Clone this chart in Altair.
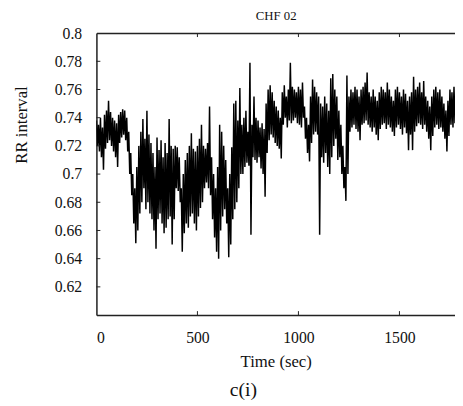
import altair as alt
import pandas as pd

# RR interval envelope, one pair per 10-second bin (0 .. 1770 s)
rr_high = [
    .738, .735, .740, .733, .742, .745, .752, .744, .740, .738,
    .736, .742, .744, .746, .745, .740, .730, .715, .700, .690,
    .705, .720, .730, .739, .725, .745, .728, .722, .715, .705,
    .726, .717, .724, .712, .722, .715, .739, .720, .718, .720,
    .719, .712, .690, .700, .710, .715, .720, .729, .718, .716,
    .720, .725, .735, .720, .718, .722, .748, .712, .700, .690,
    .705, .735, .730, .720, .710, .690, .700, .719, .750, .752,
    .738, .761, .735, .740, .745, .730, .779, .735, .755, .740,
    .738, .733, .736, .732, .750, .760, .763, .758, .752, .748,
    .745, .740, .758, .763, .755, .760, .779, .762, .760, .758,
    .762, .760, .765, .748, .740, .735, .755, .767, .762, .758,
    .755, .750, .748, .755, .750, .745, .768, .771, .760, .755,
    .745, .735, .720, .705, .770, .755, .760, .758, .762, .760,
    .755, .760, .762, .765, .772, .758, .755, .760, .755, .752,
    .758, .762, .760, .758, .765, .760, .755, .752, .760, .762,
    .758, .755, .760, .757, .752, .755, .758, .769, .760, .762,
    .765, .758, .766, .755, .752, .748, .755, .760, .762, .758,
    .760, .755, .750, .745, .752, .760, .758, .762,
]
rr_low = [
    .720, .716, .712, .703, .718, .722, .724, .720, .716, .712,
    .705, .722, .726, .728, .724, .716, .700, .685, .665, .651,
    .660, .672, .680, .690, .675, .680, .672, .668, .660, .647,
    .668, .672, .665, .658, .662, .668, .670, .650, .668, .690,
    .688, .680, .645, .658, .665, .662, .670, .672, .665, .660,
    .670, .676, .680, .690, .694, .690, .685, .668, .655, .645,
    .640, .660, .670, .675, .665, .641, .650, .668, .675, .680,
    .690, .700, .700, .705, .708, .706, .657, .712, .710, .708,
    .712, .704, .700, .684, .715, .724, .728, .726, .722, .720,
    .718, .711, .735, .740, .733, .738, .736, .738, .740, .736,
    .735, .733, .740, .725, .715, .709, .722, .728, .730, .728,
    .657, .712, .708, .715, .705, .700, .712, .720, .725, .710,
    .712, .700, .690, .681, .700, .730, .733, .735, .732, .730,
    .724, .735, .736, .738, .735, .733, .730, .733, .728, .724,
    .732, .735, .736, .732, .735, .733, .730, .727, .733, .735,
    .732, .728, .733, .729, .717, .728, .717, .730, .734, .736,
    .735, .732, .735, .730, .725, .717, .727, .733, .735, .732,
    .733, .730, .725, .716, .727, .735, .733, .736,
]
bin_seconds = 10
x_label_values = [0, 500, 1000, 1500]
x_tick_marks = [500, 1000, 1500]
y_label_values = [0.62, 0.64, 0.66, 0.68, 0.7, 0.72, 0.74, 0.76, 0.78, 0.8]
y_tick_marks = [0.62, 0.64, 0.66, 0.68, 0.7, 0.72, 0.74, 0.76, 0.78]

rows = []
for i, (h, l) in enumerate(zip(rr_high, rr_low)):
    rows.append({"t": i * bin_seconds, "rr": h})
    rows.append({"t": i * bin_seconds + bin_seconds / 2, "rr": l})
df = pd.DataFrame(rows)
xt = pd.DataFrame({"t": x_tick_marks})
yt = pd.DataFrame({"v": y_tick_marks})

W, H = 365, 287
FONT = "Liberation Serif"
INK = "#111111"
xs = alt.Scale(domain=[0, 1775], nice=False, zero=False)
ys = alt.Scale(domain=[0.6, 0.8], nice=False, zero=False)

line = alt.Chart(df).mark_line(color="black", strokeWidth=1.5, clip=True).encode(
    x=alt.X("t:Q", scale=xs, axis=alt.Axis(
        orient="bottom", values=x_label_values, format="d", title="Time (sec)",
        ticks=False, tickSize=0, labelPadding=15, grid=False,
        labelFont=FONT, labelFontSize=16, labelColor=INK,
        titleFont=FONT, titleFontSize=17, titleFontWeight="normal", titleColor=INK,
        titleY=39, titleBaseline="top",
        domainColor="#222222", domainWidth=1.5)),
    y=alt.Y("rr:Q", scale=ys, axis=alt.Axis(
        orient="left", values=y_label_values, format=".2~f", title="RR interval",
        ticks=False, tickSize=0, labelPadding=15, grid=False,
        labelFont=FONT, labelFontSize=16, labelColor=INK,
        titleFont=FONT, titleFontSize=17, titleFontWeight="normal", titleColor=INK,
        titleX=-71, titleY=93, titleAngle=-90, titleBaseline="alphabetic", titleAlign="center",
        domainColor="#222222", domainWidth=1.5)),
)

top_ticks = alt.Chart(xt).mark_rule(color="#222222", strokeWidth=1).encode(
    x=alt.X("t:Q", scale=xs, axis=alt.Axis(
        orient="top", title="CHF 02", labels=False, ticks=False, tickSize=0, grid=False,
        titleFont=FONT, titleFontSize=13, titleFontWeight="normal", titleColor=INK,
        titlePadding=11, domainColor="#222222", domainWidth=1.5)),
    y=alt.value(0), y2=alt.value(4),
)
bottom_ticks = alt.Chart(xt).mark_rule(color="#222222", strokeWidth=1).encode(
    x=alt.X("t:Q", scale=xs, axis=None),
    y=alt.value(H - 4), y2=alt.value(H),
)
left_ticks = alt.Chart(yt).mark_rule(color="#222222", strokeWidth=1).encode(
    y=alt.Y("v:Q", scale=ys, axis=None),
    x=alt.value(0), x2=alt.value(4),
)

chart = alt.layer(line, top_ticks, bottom_ticks, left_ticks).resolve_axis(
    x="independent", y="independent"
).properties(
    width=W, height=H,
    title=alt.Title("c(i)", orient="bottom", font=FONT, fontSize=20, fontWeight="normal",
                    color=INK, offset=11, dx=-33, frame="group"),
    autosize=alt.AutoSizeParams(type="none"),
    padding={"left": 90, "top": 22, "right": 0, "bottom": 88},
).configure_view(
    fill="#f7f7f7", stroke=None
).configure(background="white")

chart.save("out.html", embed_options={"renderer": "svg", "actions": False})
